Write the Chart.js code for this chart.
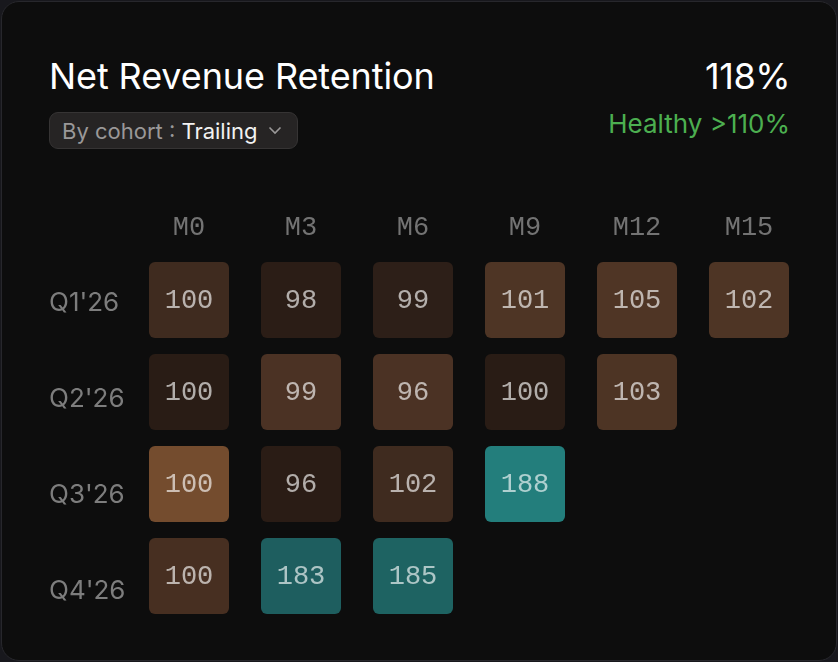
<!DOCTYPE html>
<html>
<head>
<meta charset="utf-8">
<script src="https://cdn.jsdelivr.net/npm/chart.js@4.4.1/dist/chart.umd.min.js"></script>
<style>
  html, body { margin: 0; padding: 0; width: 838px; height: 662px; background: #18181d; overflow: hidden; }
  .card { position: absolute; left: 1px; top: 1px; width: 834px; height: 658px; border: 1px solid #27272c; border-radius: 18px; background: #0d0d0d; overflow: hidden; }
  .title { position: absolute; left: 47px; top: 56px; font: 400 36px/1 Inter, sans-serif; color: #ffffff; letter-spacing: -0.1px; white-space: nowrap; }
  .kpi { position: absolute; right: 46px; top: 56px; font: 400 36px/1 Inter, sans-serif; color: #ffffff; letter-spacing: -0.5px; white-space: nowrap; }
  .status { position: absolute; right: 46px; top: 109px; font: 400 26px/1 Inter, sans-serif; color: #4caf50; white-space: nowrap; }
  .pill { position: absolute; left: 47px; top: 110px; width: 247px; height: 35px; border: 1px solid #363434; border-radius: 9px; background: #262424; }
  .pill span.t { position: absolute; left: 12px; top: 7px; font: 400 22px/1 Inter, sans-serif; color: #9a9898; white-space: nowrap; }
  .pill span.t b { font-weight: 400; color: #f2f2f2; }
  .pill svg { position: absolute; left: 218px; top: 13px; }
  canvas { position: absolute; left: 0; top: 0; }
</style>
</head>
<body>
<div class="card">
  <div class="title" id="title"></div>
  <div class="kpi" id="kpi"></div>
  <div class="status" id="status"></div>
  <div class="pill"><span class="t" id="pillText"></span>
    <svg width="14" height="9" viewBox="0 0 14 9"><polyline points="1.5,1.5 7,7 12.5,1.5" fill="none" stroke="#9a9898" stroke-width="1.6"/></svg>
  </div>
</div>
<canvas id="c" width="838" height="662"></canvas>
<script>
// ---- data ----
const chartTitle = "Net Revenue Retention";
const headlineValue = "118%";
const headlineStatus = "Healthy >110%";
const filterLabel = "By cohort : ";
const filterValue = "Trailing";
const periods = ["M0", "M3", "M6", "M9", "M12", "M15"];
const cohorts = ["Q1'26", "Q2'26", "Q3'26", "Q4'26"];
const q1_26 = [100, 98, 99, 101, 105, 102];
const q2_26 = [100, 99, 96, 100, 103];
const q3_26 = [100, 96, 102, 188];
const q4_26 = [100, 183, 185];
const cohortValues = [q1_26, q2_26, q3_26, q4_26];

// ---- styles (cell fill per cohort row / period column) ----
const cellFills = [
  ["#3f2b1f", "#2b1d16", "#2d1f18", "#4e3525", "#4f3525", "#4e3525"],
  ["#291c15", "#4b3224", "#4b3224", "#291c15", "#4d3424"],
  ["#744c2e", "#2a1c15", "#3f2b1f", "#237e7c"],
  ["#472f21", "#1e5e5f", "#1e6362"]
];

document.getElementById('title').textContent = chartTitle;
document.getElementById('kpi').textContent = headlineValue;
document.getElementById('status').textContent = headlineStatus;
const pt = document.getElementById('pillText');
pt.appendChild(document.createTextNode(filterLabel));
const b = document.createElement('b'); b.textContent = filterValue; pt.appendChild(b);

const points = [];
cohortValues.forEach((row, r) => row.forEach((v, c) => points.push({ x: periods[c], y: r, v: v, r: r, c: c })));

const cellPlugin = {
  id: 'cells',
  afterDatasetsDraw(chart) {
    const meta = chart.getDatasetMeta(0);
    const xs = chart.scales.x, ys = chart.scales.yc;
    const bandW = xs.width / periods.length;
    const pitchY = Math.abs(ys.getPixelForValue(1) - ys.getPixelForValue(0));
    const w = bandW * 80 / 112, h = pitchY * 76 / 92;
    const ctx = chart.ctx;
    ctx.save();
    meta.data.forEach((el, i) => {
      const p = points[i];
      ctx.beginPath();
      ctx.roundRect(el.x - w / 2, el.y - h / 2, w, h, 6);
      ctx.fillStyle = cellFills[p.r][p.c];
      ctx.fill();
      ctx.fillStyle = 'rgba(255,255,255,0.64)';
      ctx.font = '400 27px "Liberation Mono", monospace';
      ctx.textAlign = 'center';
      ctx.textBaseline = 'middle';
      ctx.fillText(String(p.v), el.x, el.y + 1);
    });
    ctx.restore();
  }
};

new Chart(document.getElementById('c'), {
  type: 'scatter',
  data: {
    datasets: [{
      data: points,
      xAxisID: 'x',
      yAxisID: 'yc',
      pointRadius: 0,
      pointHoverRadius: 0
    }]
  },
  options: {
    responsive: false,
    animation: false,
    events: [],
    layout: { padding: { left: 49, right: 33, top: 0, bottom: 25 } },
    plugins: { legend: { display: false }, tooltip: { enabled: false } },
    scales: {
      x: {
        type: 'category',
        labels: periods,
        position: 'top',
        offset: true,
        grid: { display: false, drawTicks: false },
        border: { display: false },
        ticks: { color: '#737373', padding: 9, font: { family: '"Liberation Mono", monospace', size: 27 } },
        afterFit(s) { s.height = 253; }
      },
      y: {
        type: 'category',
        labels: cohorts,
        position: 'left',
        offset: true,
        grid: { display: false, drawTicks: false },
        border: { display: false },
        ticks: { color: '#7d7d7d', crossAlign: 'far', padding: 0, labelOffset: 2, font: { family: 'Inter, sans-serif', size: 26 } },
        afterFit(s) { s.width = 84; }
      },
      yc: {
        type: 'linear',
        display: false,
        reverse: true,
        min: -0.511,
        max: 3.663
      }
    }
  },
  plugins: [cellPlugin]
});
</script>
</body>
</html>
